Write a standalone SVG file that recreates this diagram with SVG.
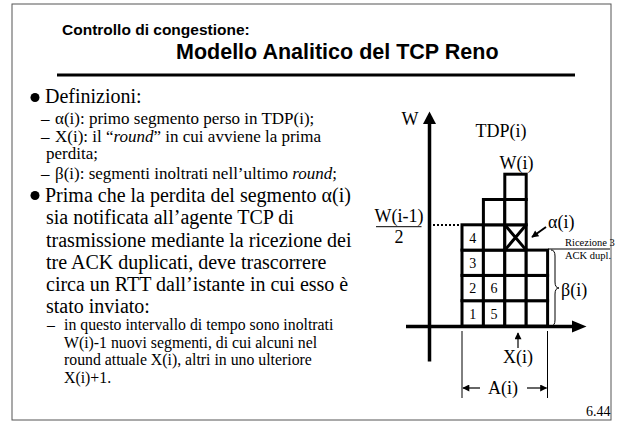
<svg xmlns="http://www.w3.org/2000/svg" width="620" height="424" viewBox="0 0 620 424">
<style>
.t{font-family:"Liberation Serif","Times New Roman",serif;fill:#000}
.main{font-size:20px}
.sub{font-size:17px}
.sub2{font-size:15.8px}
.h{font-family:"Liberation Sans",Arial,sans-serif;font-weight:bold;fill:#000}
.cell{fill:#fff;stroke:#000;stroke-width:3}
.thin{stroke:#000;stroke-width:1;fill:none}
.lbl{font-size:18px}
.num{font-size:14px;text-anchor:middle}
.mid{text-anchor:middle}
</style>
<defs>
<marker id="ah" viewBox="0 0 10 10" refX="9" refY="5" markerWidth="8" markerHeight="7" markerUnits="userSpaceOnUse" orient="auto"><path d="M0,0 L10,5 L0,10 z" fill="#000"/></marker>
</defs>
<rect x="12" y="4" width="599" height="416" fill="#fff" stroke="#555" stroke-width="1"/>
<g id="title">
<text class="h" x="62" y="35" font-size="15.5">Controllo di congestione:</text>
<text class="h" x="176" y="59" font-size="21.5">Modello Analitico del TCP Reno</text>
<line x1="57" y1="75" x2="575" y2="75" stroke="#000" stroke-width="3"/>
</g>
<g id="text">
<circle cx="35" cy="97.5" r="4.5"/>
<text class="t main" x="45" y="103">Definizioni:</text>
<text class="t sub" x="41" y="124">–</text>
<text class="t sub" x="55" y="124">α(i): primo segmento perso in TDP(i);</text>
<text class="t sub" x="41" y="142">–</text>
<text class="t sub" x="55" y="142">X(i): il “<tspan font-style="italic">round</tspan>” in cui avviene la prima</text>
<text class="t sub" x="46" y="159">perdita;</text>
<text class="t sub" x="41" y="179">–</text>
<text class="t sub" x="55" y="179">β(i): segmenti inoltrati nell’ultimo <tspan font-style="italic">round</tspan>;</text>
<circle cx="35" cy="195.5" r="4.5"/>
<text class="t main" x="45" y="201.5">Prima che la perdita del segmento α(i)</text>
<text class="t main" x="46" y="224">sia notificata all’agente TCP di</text>
<text class="t main" x="46" y="246.5">trasmissione mediante la ricezione dei</text>
<text class="t main" x="46" y="269">tre ACK duplicati, deve trascorrere</text>
<text class="t main" x="46" y="291">circa un RTT dall’istante in cui esso è</text>
<text class="t main" x="46" y="313">stato inviato:</text>
<text class="t sub2" x="47" y="330">–</text>
<text class="t sub2" x="64" y="330">in questo intervallo di tempo sono inoltrati</text>
<text class="t sub2" x="64" y="347.5">W(i)-1 nuovi segmenti, di cui alcuni nel</text>
<text class="t sub2" x="64" y="365">round attuale X(i), altri in uno ulteriore</text>
<text class="t sub2" x="64" y="382.5">X(i)+1.</text>
</g>
<g id="axes">
<line x1="429.5" y1="122" x2="429.5" y2="361.5" stroke="#000" stroke-width="3.5"/>
<polygon points="429.5,111.5 423,124 436,124"/>
<line x1="406" y1="326.5" x2="574" y2="326.5" stroke="#000" stroke-width="3.5"/>
<polygon points="586.5,326.5 572,320.5 572,332.5"/>
<text class="t lbl mid" x="410" y="125" font-size="19">W</text>
</g>
<g id="cells">
<rect class="cell" x="462" y="300.7" width="21.4" height="25.3"/>
<rect class="cell" x="462" y="275.4" width="21.4" height="25.3"/>
<rect class="cell" x="462" y="250.1" width="21.4" height="25.3"/>
<rect class="cell" x="462" y="224.8" width="21.4" height="25.3"/>
<rect class="cell" x="483.4" y="300.7" width="21.4" height="25.3"/>
<rect class="cell" x="483.4" y="275.4" width="21.4" height="25.3"/>
<rect class="cell" x="483.4" y="250.1" width="21.4" height="25.3"/>
<rect class="cell" x="483.4" y="224.8" width="21.4" height="25.3"/>
<rect class="cell" x="483.4" y="199.5" width="21.4" height="25.3"/>
<rect class="cell" x="504.8" y="300.7" width="21.4" height="25.3"/>
<rect class="cell" x="504.8" y="275.4" width="21.4" height="25.3"/>
<rect class="cell" x="504.8" y="250.1" width="21.4" height="25.3"/>
<rect class="cell" x="504.8" y="224.8" width="21.4" height="25.3"/>
<rect class="cell" x="504.8" y="199.5" width="21.4" height="25.3"/>
<rect class="cell" x="504.8" y="174.2" width="21.4" height="25.3"/>
<rect class="cell" x="526.2" y="300.7" width="21.4" height="25.3"/>
<rect class="cell" x="526.2" y="275.4" width="21.4" height="25.3"/>
<rect class="cell" x="526.2" y="250.1" width="21.4" height="25.3"/>
<path d="M504.8,224.8 L526.2,250.1 M526.2,224.8 L504.8,250.1" stroke="#000" stroke-width="3"/>
<text class="t num" x="472.7" y="318.5">1</text>
<text class="t num" x="472.7" y="293.2">2</text>
<text class="t num" x="472.7" y="267.9">3</text>
<text class="t num" x="472.7" y="242.6">4</text>
<text class="t num" x="494.1" y="318.5">5</text>
<text class="t num" x="494.1" y="293.2">6</text>
</g>
<g id="labels">
<text class="t lbl mid" x="501" y="137">TDP(i)</text>
<text class="t lbl mid" x="516.5" y="169">W(i)</text>
<text class="t lbl mid" x="399" y="221.5">W(i-1)</text>
<line x1="376" y1="226.7" x2="421.5" y2="226.7" stroke="#000" stroke-width="1"/>
<text class="t lbl mid" x="399" y="242.5">2</text>
<line x1="433" y1="225" x2="461" y2="225" stroke="#000" stroke-width="2" stroke-dasharray="2,2"/>
<text class="t lbl" x="548" y="228">α(i)</text>
<line x1="546" y1="227" x2="532" y2="237" stroke="#000" stroke-width="2" marker-end="url(#ah)"/>
<line x1="548" y1="249" x2="610" y2="249" stroke="#000" stroke-width="1"/>
<text class="t" x="565" y="246" font-size="10.5">Ricezione 3</text>
<text class="t" x="565" y="258.5" font-size="10.5">ACK dupl.</text>
<path d="M551,250 Q555,250 555,256 L555,282 Q555,288 559,288 Q555,288 555,294 L555,320 Q555,326 551,326" class="thin" stroke-width="2"/>
<text class="t lbl" x="561" y="296" font-size="19">β(i)</text>
<line x1="518" y1="348" x2="518" y2="333" stroke="#000" stroke-width="1.2" marker-end="url(#ah)"/>
<text class="t lbl mid" x="518" y="363">X(i)</text>
<line class="thin" x1="462" y1="331" x2="462" y2="398"/>
<line class="thin" x1="547.5" y1="331" x2="547.5" y2="398"/>
<line x1="480" y1="388" x2="463" y2="388" stroke="#000" stroke-width="1.2" marker-end="url(#ah)"/>
<line x1="527" y1="388" x2="546.5" y2="388" stroke="#000" stroke-width="1.2" marker-end="url(#ah)"/>
<text class="t lbl mid" x="503" y="394">A(i)</text>
<text class="t" x="586" y="416" font-size="14">6.44</text>
</g>
</svg>
